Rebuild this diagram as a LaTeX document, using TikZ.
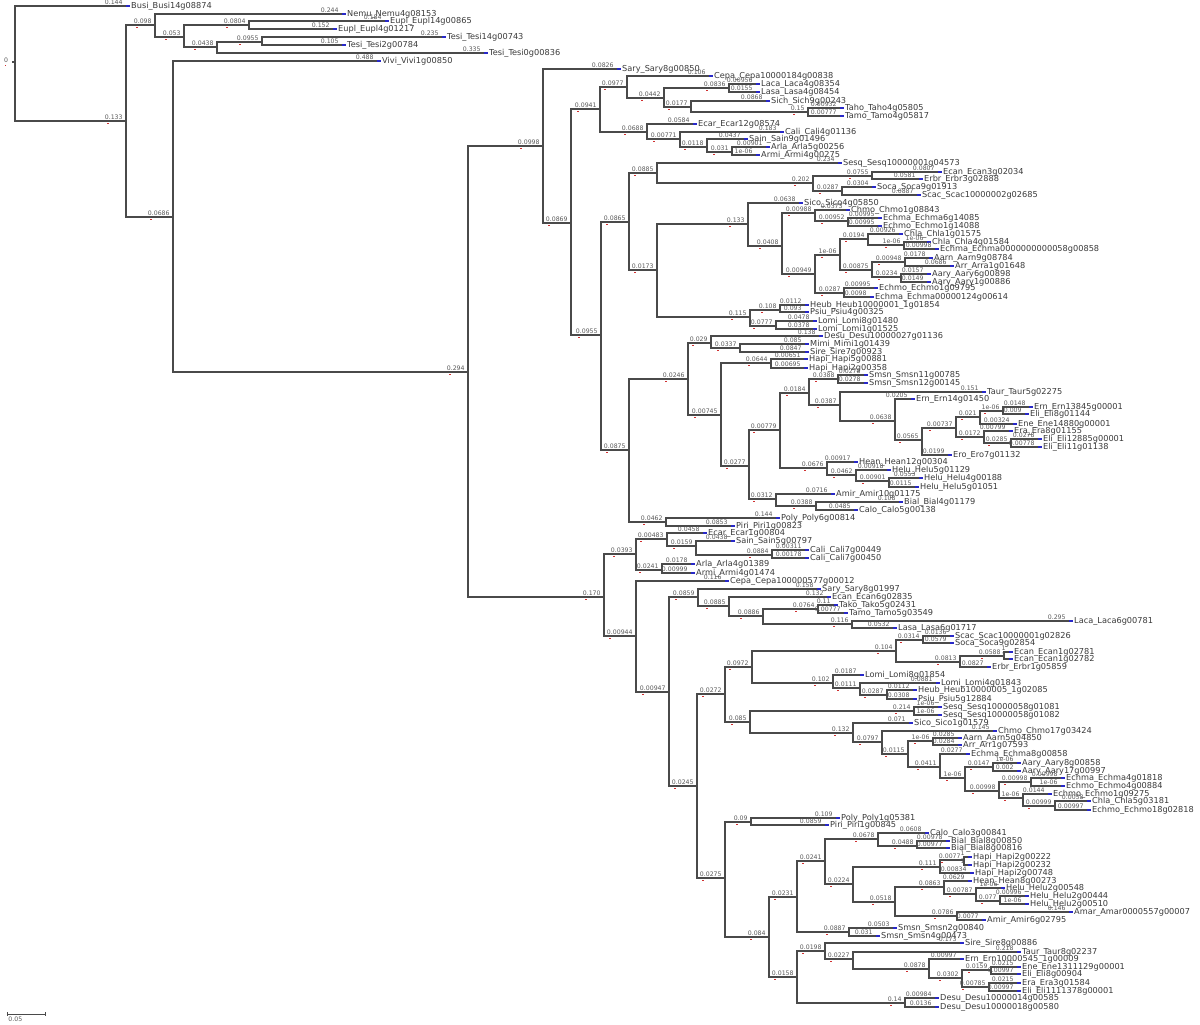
\documentclass[tikz,border=0pt]{standalone}
\usepackage{fontspec}
\newfontfamily\treefont{DejaVu Sans}
\definecolor{edgecol}{HTML}{4A4A4A}
\definecolor{labcol}{HTML}{5A5A5A}
\definecolor{namecol}{HTML}{3A3A3A}
\definecolor{redmk}{HTML}{D03030}
\definecolor{bluemk}{HTML}{2828C8}
\tikzset{
  edge/.style={draw=edgecol, line width=0.7pt},
  blab/.style={anchor=south east, inner sep=0pt, xshift=-1.5pt, yshift=0.4pt, text=labcol, font=\treefont\fontsize{3.1}{3.1}\selectfont},
  lname/.style={anchor=west, inner sep=0pt, text=namecol, font=\treefont\fontsize{4.1}{4.1}\selectfont},
  rmk/.style={fill=redmk},
  bmk/.style={fill=bluemk},
}
% internal node: parent, name, x, y, branch label
\newcommand{\TNode}[5]{%
  \coordinate (#2) at (#3,#4);
  \draw[edge] (#1) |- (#2);
  \node[blab] (#2-l) at (#2) {#5};
  \fill[rmk] ([xshift=1.2pt,yshift=-1.3pt]#2-l.south west) rectangle ++(0.9pt,-0.7pt);
  \fill[rmk] ([xshift=-0.3pt,yshift=-0.4pt]#2) rectangle ++(0.9pt,0.8pt);
}
% leaf: parent, name, x, y, branch label, leaf name
\newcommand{\TLeaf}[6]{%
  \coordinate (#2) at (#3,#4);
  \draw[edge] (#1) |- (#2);
  \node[blab] (#2-l) at (#2) {#5};
  \fill[bmk] ([yshift=-0.35pt]#2) rectangle ++(2.2pt,0.7pt);
  \node[lname] (#2-n) at ([xshift=2.4pt]#2) {#6};
}
\begin{document}
\begin{tikzpicture}[x=0.5pt,y=-0.5pt]
\fill[white] (0,0) rectangle (1200,1024);
\useasboundingbox (0,0) rectangle (1200,1024);
% root
\coordinate (R) at (15,62);
\coordinate (R0) at (12,62);
\draw[edge] (R0) -- (R);
\node[blab, anchor=east, xshift=-0.3pt, yshift=0.3pt] (R-l) at (R0) {0};
\fill[rmk] ([xshift=0.5pt,yshift=-0.6pt]R-l.south west) rectangle ++(0.9pt,-0.7pt);
\TLeaf{R}{Busi}{126}{6}{0.144}{Busi\_Busi14g08874}
\TNode{R}{N1}{126}{121}{0.133}
\TNode{N1}{N2}{155}{25}{0.098}
\TLeaf{N2}{Nemu}{342}{14}{0.244}{Nemu\_Nemu4g08153}
\TNode{N2}{N3}{184}{37}{0.053}
\TNode{N3}{N4}{249}{25}{0.0804}
\TLeaf{N4}{Eupl1}{385}{21}{0.184}{Eupl\_Eupl14g00865}
\TLeaf{N4}{Eupl2}{333}{29}{0.152}{Eupl\_Eupl4g01217}
\TNode{N3}{N5}{217}{47}{0.0438}
\TNode{N5}{N6}{262}{42}{0.0955}
\TLeaf{N6}{Tesi1}{442}{37}{0.235}{Tesi\_Tesi14g00743}
\TLeaf{N6}{Tesi2}{342}{45}{0.105}{Tesi\_Tesi2g00784}
\TLeaf{N5}{Tesi3}{484}{53}{0.335}{Tesi\_Tesi0g00836}
\TNode{N1}{N7}{173}{217}{0.0686}
\TLeaf{N7}{Vivi}{377}{61}{0.488}{Vivi\_Vivi1g00850}
\TNode{N7}{N8}{468}{372}{0.294}
\TNode{N8}{N9}{543}{146}{0.0998}
\TLeaf{N9}{Sary}{617}{69}{0.0826}{Sary\_Sary8g00850}
\TNode{N9}{N10}{571}{223}{0.0869}
\TNode{N10}{N11}{600}{109}{0.0941}
\TNode{N11}{N12}{627}{87}{0.0977}
\TLeaf{N12}{Cepa1}{709}{76}{0.106}{Cepa\_Cepa10000184g00838}
\TNode{N12}{N13}{664}{98}{0.0442}
\TNode{N13}{N14}{729}{88}{0.0836}
\TLeaf{N14}{Laca}{756}{84}{0.00956}{Laca\_Laca4g08354}
\TLeaf{N14}{Lasa}{756}{92}{0.0155}{Lasa\_Lasa4g08454}
\TNode{N13}{N15}{691}{107}{0.0177}
\TLeaf{N15}{Sich}{766}{101}{0.0868}{Sich\_Sich9g00243}
\TNode{N15}{N16}{808}{112}{0.15}
\TLeaf{N16}{Taho}{840}{108}{0.00932}{Taho\_Taho4g05805}
\TLeaf{N16}{Tamo}{840}{116}{0.00777}{Tamo\_Tamo4g05817}
\TNode{N11}{N17}{647}{132}{0.0688}
\TLeaf{N17}{Ecar}{693}{124}{0.0584}{Ecar\_Ecar12g08574}
\TNode{N17}{N18}{680}{139}{0.00771}
\TLeaf{N18}{Cali}{780}{132}{0.183}{Cali\_Cali4g01136}
\TNode{N18}{N19}{707}{147}{0.0118}
\TLeaf{N19}{Sain}{744}{139}{0.0437}{Sain\_Sain9g01496}
\TNode{N19}{N20}{732}{152}{0.031}
\TLeaf{N20}{Arla}{766}{147}{0.00901}{Arla\_Arla5g00256}
\TLeaf{N20}{Armi}{756}{155}{1e-06}{Armi\_Armi4g00275}
\TNode{N10}{N21}{601}{335}{0.0955}
\TNode{N21}{N22}{629}{222}{0.0865}
\TNode{N22}{N23}{657}{173}{0.0885}
\TLeaf{N23}{Sesq}{838}{163}{0.234}{Sesq\_Sesq10000001g04573}
\TNode{N23}{N24}{813}{183}{0.202}
\TNode{N24}{N25}{872}{176}{0.0755}
\TLeaf{N25}{Ecan1}{938}{172}{0.0807}{Ecan\_Ecan3g02034}
\TLeaf{N25}{Erbr}{919}{179}{0.0581}{Erbr\_Erbr3g02888}
\TNode{N24}{N26}{842}{191}{0.0287}
\TLeaf{N26}{Soca}{872}{187}{0.0304}{Soca\_Soca9g01913}
\TLeaf{N26}{Scac}{917}{195}{0.0887}{Scac\_Scac10000002g02685}
\TNode{N22}{N27}{657}{270}{0.0173}
\TNode{N27}{N28}{748}{224}{0.133}
\TLeaf{N28}{Sico}{799}{203}{0.0638}{Sico\_Sico4g05850}
\TNode{N28}{N29}{782}{246}{0.0408}
\TNode{N29}{N30}{815}{213}{0.00988}
\TLeaf{N30}{Chmo1}{846}{210}{0.0373}{Chmo\_Chmo1g08843}
\TNode{N30}{N31}{848}{221}{0.00952}
\TLeaf{N31}{Chma1}{878}{218}{0.00995}{Echma\_Echma6g14085}
\TLeaf{N31}{Chmo2}{878}{226}{0.00995}{Echmo\_Echmo1g14088}
\TNode{N29}{N32}{815}{274}{0.00949}
\TNode{N32}{N33}{840}{255}{1e-06}
\TNode{N33}{N34}{868}{239}{0.0194}
\TLeaf{N34}{Chla1}{899}{234}{0.00926}{Chla\_Chla1g01575}
\TNode{N34}{N35}{904}{245}{1e-06}
\TLeaf{N35}{Chla2}{927}{242}{1e-06}{Chla\_Chla4g01584}
\TLeaf{N35}{Echma}{935}{249}{0.00998}{Echma\_Echma0000000000058g00858}
\TNode{N33}{N36}{872}{270}{0.00875}
\TNode{N36}{N36a}{905}{262}{0.00948}
\TLeaf{N36a}{Aarn}{929}{258}{0.0178}{Aarn\_Aarn9g08784}
\TLeaf{N36a}{Arr}{950}{266}{0.0686}{Arr\_Arra1g01648}
\TNode{N36}{N36b}{901}{277}{0.0234}
\TLeaf{N36b}{Aary1}{927}{274}{0.0157}{Aary\_Aary6g00898}
\TLeaf{N36b}{Aary2}{927}{282}{0.0149}{Aary\_Aary1g00886}
\TNode{N32}{N37}{844}{293}{0.0287}
\TLeaf{N37}{Echmo}{874}{288}{0.00995}{Echmo\_Echmo1g09795}
\TLeaf{N37}{Echma2}{870}{297}{0.0098}{Echma\_Echma00000124g00614}
\TNode{N27}{N38}{750}{317}{0.115}
\TNode{N38}{N39}{780}{310}{0.108}
\TLeaf{N39}{Heub}{805}{305}{0.0112}{Heub\_Heub10000001\_1g01854}
\TLeaf{N39}{Psiu}{805}{312}{0.093}{Psiu\_Psiu4g00325}
\TNode{N38}{N40}{776}{326}{0.0777}
\TLeaf{N40}{Lomi1}{813}{321}{0.0478}{Lomi\_Lomi8g01480}
\TLeaf{N40}{Lomi2}{813}{329}{0.0378}{Lomi\_Lomi1g01525}
\TNode{N21}{N41}{629}{450}{0.0875}
\TNode{N41}{N42}{688}{379}{0.0246}
\TNode{N42}{N43}{711}{343}{0.029}
\TLeaf{N43}{Desu1}{819}{336}{0.138}{Desu\_Desu10000027g01136}
\TNode{N43}{N44}{740}{348}{0.0337}
\TLeaf{N44}{Mimi}{805}{344}{0.085}{Mimi\_Mimi1g01439}
\TLeaf{N44}{Sire}{805}{352}{0.0847}{Sire\_Sire7g00923}
\TNode{N42}{N45}{721}{415}{0.00745}
\TNode{N45}{N46}{771}{363}{0.0644}
\TLeaf{N46}{Hapi1}{804}{359}{0.00651}{Hapi\_Hapi5g00881}
\TLeaf{N46}{Hapi2}{804}{368}{0.00695}{Hapi\_Hapi2g00358}
\TNode{N45}{N47}{749}{466}{0.0277}
\TNode{N47}{N48}{780}{430}{0.00779}
\TNode{N48}{N49}{809}{393}{0.0184}
\TNode{N49}{N50}{838}{379}{0.0388}
\TLeaf{N50}{Smsn1}{864}{375}{0.0278}{Smsn\_Smsn11g00785}
\TLeaf{N50}{Smsn2}{864}{383}{0.0278}{Smsn\_Smsn12g00145}
\TNode{N49}{N51}{840}{405}{0.0387}
\TLeaf{N51}{Taur}{982}{392}{0.151}{Taur\_Taur5g02275}
\TNode{N51}{N52}{895}{421}{0.0638}
\TLeaf{N52}{Ern1}{911}{399}{0.0205}{Ern\_Ern14g01450}
\TNode{N52}{N53}{922}{440}{0.0565}
\TNode{N53}{N54}{956}{428}{0.00737}
\TNode{N54}{N55}{980}{417}{0.021}
\TNode{N55}{N56}{1003}{411}{1e-06}
\TLeaf{N56}{Ern2}{1029}{407}{0.0148}{Ern\_Ern13845g00001}
\TLeaf{N56}{Eli1}{1025}{414}{0.009}{Eli\_Eli8g01144}
\TLeaf{N55}{Ene}{1013}{424}{0.00324}{Ene\_Ene14880g00001}
\TNode{N54}{N57}{984}{437}{0.0172}
\TLeaf{N57}{Era}{1009}{431}{0.00799}{Era\_Era8g01155}
\TNode{N57}{N58}{1011}{443}{0.0285}
\TLeaf{N58}{Eli2}{1038}{439}{0.0278}{Eli\_Eli12885g00001}
\TLeaf{N58}{Eli3}{1038}{447}{0.00778}{Eli\_Eli11g01138}
\TLeaf{N53}{Ero}{948}{455}{0.0199}{Ero\_Ero7g01132}
\TNode{N48}{N59}{827}{468}{0.0676}
\TLeaf{N59}{Hean}{854}{462}{0.00917}{Hean\_Hean12g00304}
\TNode{N59}{N60}{856}{475}{0.0462}
\TLeaf{N60}{Helu1}{887}{470}{0.00918}{Helu\_Helu5g01129}
\TNode{N60}{N61}{889}{481}{0.00901}
\TLeaf{N61}{Helu2}{919}{478}{0.0553}{Helu\_Helu4g00188}
\TLeaf{N61}{Helu3}{915}{487}{0.0115}{Helu\_Helu5g01051}
\TNode{N47}{N62}{776}{499}{0.0312}
\TLeaf{N62}{Amir}{831}{494}{0.0716}{Amir\_Amir10g01175}
\TNode{N62}{N63}{816}{506}{0.0388}
\TLeaf{N63}{Bial}{899}{502}{0.108}{Bial\_Bial4g01179}
\TLeaf{N63}{Calo}{854}{510}{0.0485}{Calo\_Calo5g00138}
\TNode{N41}{N64}{666}{522}{0.0462}
\TLeaf{N64}{Poly}{776}{518}{0.144}{Poly\_Poly6g00814}
\TLeaf{N64}{Piri}{731}{526}{0.0853}{Piri\_Piri1g00823}
% lower clade
\TNode{N8}{N65}{604}{597}{0.170}
\TNode{N65}{N66}{636}{554}{0.0393}
\TNode{N66}{N67}{667}{539}{0.00483}
\TLeaf{N67}{Ecar2}{703}{533}{0.0458}{Ecar\_Ecar1g00804}
\TNode{N67}{N68}{696}{546}{0.0159}
\TLeaf{N68}{Sain2}{731}{541}{0.0438}{Sain\_Sain5g00797}
\TNode{N68}{N69}{772}{555}{0.0884}
\TLeaf{N69}{Cali2}{805}{550}{0.00311}{Cali\_Cali7g00449}
\TLeaf{N69}{Cali3}{805}{558}{0.00178}{Cali\_Cali7g00450}
\TNode{N66}{N70}{662}{570}{0.0241}
\TLeaf{N70}{Arla2}{691}{564}{0.0178}{Arla\_Arla4g01389}
\TLeaf{N70}{Armi2}{691}{573}{0.00999}{Armi\_Armi4g01474}
\TNode{N65}{N71}{636}{636}{0.00944}
\TLeaf{N71}{Cepa2}{725}{581}{0.116}{Cepa\_Cepa100000577g00012}
\TNode{N71}{N72}{669}{692}{0.00947}
\TNode{N72}{N73}{698}{597}{0.0859}
\TLeaf{N73}{Sary2}{817}{589}{0.158}{Sary\_Sary8g01997}
\TNode{N73}{N74}{729}{606}{0.0885}
\TLeaf{N74}{Ecan2}{827}{597}{0.132}{Ecan\_Ecan6g02835}
\TNode{N74}{N75}{763}{616}{0.0886}
\TNode{N75}{N76}{818}{609}{0.0764}
\TLeaf{N76}{Tako}{834}{605}{0.11}{Tako\_Tako5g02431}
\TLeaf{N76}{Tamo2}{844}{613}{0.00777}{Tamo\_Tamo5g03549}
\TNode{N75}{N77}{852}{624}{0.116}
\TLeaf{N77}{Laca2}{1069}{621}{0.295}{Laca\_Laca6g00781}
\TLeaf{N77}{Lasa2}{893}{628}{0.0532}{Lasa\_Lasa6g01717}
\TNode{N72}{N78}{697}{786}{0.0245}
\TNode{N78}{N79}{725}{694}{0.0272}
\TNode{N79}{N80}{752}{667}{0.0972}
\TNode{N80}{N81}{896}{651}{0.104}
\TNode{N81}{N82}{923}{640}{0.0314}
\TLeaf{N82}{Scac2}{950}{636}{0.0136}{Scac\_Scac10000001g02826}
\TLeaf{N82}{Soca2}{950}{643}{0.0579}{Soca\_Soca9g02854}
\TNode{N81}{N83}{960}{662}{0.0813}
\TNode{N83}{N84}{1004}{656}{0.0588}
\TLeaf{N84}{Ecan3}{1009}{652}{1}{Ecan\_Ecan1g02781}
\TLeaf{N84}{Ecan4}{1009}{659}{1}{Ecan\_Ecan1g02782}
\TLeaf{N83}{Erbr2}{987}{667}{0.0827}{Erbr\_Erbr1g05859}
\TNode{N80}{N85}{833}{683}{0.102}
\TLeaf{N85}{Lomi3}{860}{675}{0.0187}{Lomi\_Lomi8g01854}
\TNode{N85}{N86}{860}{688}{0.0111}
\TLeaf{N86}{Lomi4}{936}{683}{0.0881}{Lomi\_Lomi4g01843}
\TNode{N86}{N87}{887}{695}{0.0287}
\TLeaf{N87}{Heub2}{913}{690}{0.0112}{Heub\_Heub10000005\_1g02085}
\TLeaf{N87}{Psiu2}{913}{699}{0.0308}{Psiu\_Psiu5g12884}
\TNode{N79}{N88}{750}{722}{0.085}
\TNode{N88}{N89}{914}{711}{0.214}
\TLeaf{N89}{Sesq2}{938}{707}{1e-06}{Sesq\_Sesq10000058g01081}
\TLeaf{N89}{Sesq3}{938}{715}{1e-06}{Sesq\_Sesq10000058g01082}
\TNode{N88}{N90}{853}{733}{0.132}
\TLeaf{N90}{Sico2}{909}{723}{0.071}{Sico\_Sico1g01579}
\TNode{N90}{N91}{882}{742}{0.0797}
\TLeaf{N91}{Chmo3}{993}{731}{0.145}{Chmo\_Chmo17g03424}
\TNode{N91}{N92}{908}{754}{0.0115}
\TNode{N92}{N93}{933}{741}{1e-06}
\TLeaf{N93}{Aarn2}{958}{738}{0.0285}{Aarn\_Aarn5g04850}
\TLeaf{N93}{Arr2}{958}{745}{0.0284}{Arr\_Arr1g07593}
\TNode{N92}{N94}{940}{767}{0.0411}
\TLeaf{N94}{Chma3}{966}{754}{0.0277}{Echma\_Echma8g00858}
\TNode{N94}{N95}{965}{778}{1e-06}
\TNode{N95}{N96}{993}{767}{0.0147}
\TLeaf{N96}{Aary3}{1017}{763}{1e-06}{Aary\_Aary8g00858}
\TLeaf{N96}{Aary4}{1017}{771}{0.002}{Aary\_Aary17g00997}
\TNode{N95}{N97}{999}{791}{0.00998}
\TNode{N97}{N98}{1031}{782}{0.00998}
\TLeaf{N98}{Chma4}{1061}{778}{0.00998}{Echma\_Echma4g01818}
\TLeaf{N98}{Chmo4}{1061}{786}{1e-06}{Echmo\_Echmo4g00884}
\TNode{N97}{N99}{1023}{798}{1e-06}
\TLeaf{N99}{Chmo5}{1048}{794}{0.0144}{Echmo\_Echmo1g09275}
\TNode{N99}{N100}{1055}{806}{0.00999}
\TLeaf{N100}{Chla3}{1087}{801}{0.0058}{Chla\_Chla5g03181}
\TLeaf{N100}{Chmo6}{1087}{810}{0.00997}{Echmo\_Echmo18g02818}
\TNode{N78}{N101}{725}{878}{0.0275}
\TNode{N101}{N102}{751}{822}{0.09}
\TLeaf{N102}{Poly2}{836}{818}{0.109}{Poly\_Poly1g05381}
\TLeaf{N102}{Piri2}{825}{825}{0.0859}{Piri\_Piri1g00845}
\TNode{N101}{N103}{769}{937}{0.084}
\TNode{N103}{N104}{797}{897}{0.0231}
\TNode{N104}{N105}{825}{861}{0.0241}
\TNode{N105}{N106}{878}{839}{0.0678}
\TLeaf{N106}{Calo2}{925}{833}{0.0608}{Calo\_Calo3g00841}
\TNode{N106}{N107}{917}{846}{0.0488}
\TLeaf{N107}{Bial2}{946}{841}{0.00978}{Bial\_Bial8g00850}
\TLeaf{N107}{Bial3}{946}{848}{0.00977}{Bial\_Bial8g00816}
\TNode{N105}{N108}{853}{884}{0.0224}
\TNode{N108}{N109}{940}{867}{0.111}
\TNode{N109}{N110}{964}{860}{0.0077}
\TLeaf{N110}{Hapi3}{968}{857}{1}{Hapi\_Hapi2g00222}
\TLeaf{N110}{Hapi4}{968}{865}{1}{Hapi\_Hapi2g00232}
\TLeaf{N109}{Hapi5}{970}{873}{0.00834}{Hapi\_Hapi2g00748}
\TNode{N108}{N111}{895}{902}{0.0518}
\TNode{N111}{N112}{944}{887}{0.0863}
\TLeaf{N112}{Hean2}{968}{881}{0.0629}{Hean\_Hean8g00273}
\TNode{N112}{N113}{976}{894}{0.00787}
\TLeaf{N113}{Helu4}{1001}{888}{1e-06}{Helu\_Helu2g00548}
\TNode{N113}{N114}{1000}{901}{0.077}
\TLeaf{N114}{Helu5}{1025}{896}{0.00996}{Helu\_Helu2g00444}
\TLeaf{N114}{Helu6}{1025}{904}{1e-06}{Helu\_Helu2g00510}
\TNode{N111}{N115}{957}{916}{0.0786}
\TLeaf{N115}{Amar}{1069}{912}{0.146}{Amar\_Amar0000557g00007}
\TLeaf{N115}{Amir2}{982}{920}{0.0077}{Amir\_Amir6g02795}
\TNode{N104}{N116}{849}{932}{0.0887}
\TLeaf{N116}{Smsn3}{893}{928}{0.0503}{Smsn\_Smsn2g00840}
\TLeaf{N116}{Smsn4}{876}{936}{0.031}{Smsn\_Smsn4g00473}
\TNode{N103}{N117}{797}{977}{0.0158}
\TNode{N117}{N118}{825}{951}{0.0198}
\TLeaf{N118}{Sire2}{960}{943}{0.173}{Sire\_Sire8g00886}
\TNode{N118}{N119}{853}{959}{0.0227}
\TLeaf{N119}{Taur2}{1017}{952}{0.218}{Taur\_Taur8g02237}
\TNode{N119}{N120}{929}{969}{0.0878}
\TLeaf{N120}{Ern3}{960}{959}{0.00997}{Ern\_Ern10000545\_1g00009}
\TNode{N120}{N121}{962}{978}{0.0302}
\TNode{N121}{N122}{991}{970}{0.0159}
\TLeaf{N122}{Ene2}{1017}{967}{0.0215}{Ene\_Ene1311129g00001}
\TLeaf{N122}{Eli4}{1017}{974}{0.00997}{Eli\_Eli8g00904}
\TNode{N121}{N123}{989}{987}{0.00785}
\TLeaf{N123}{Era2}{1017}{983}{0.0215}{Era\_Era3g01584}
\TLeaf{N123}{Eli5}{1017}{991}{0.00997}{Eli\_Eli1111378g00001}
\TNode{N117}{N124}{905}{1003}{0.14}
\TLeaf{N124}{Desu2}{935}{998}{0.00984}{Desu\_Desu10000014g00585}
\TLeaf{N124}{Desu3}{935}{1007}{0.0136}{Desu\_Desu10000018g00580}
% scale bar
\coordinate (sbA) at (7,1014);
\coordinate (sbB) at (45,1014);
\draw[edge, line width=0.5pt] (sbA) -- (sbB);
\draw[edge, line width=0.5pt] ([yshift=0.8pt]sbA) -- ([yshift=-0.8pt]sbA);
\draw[edge, line width=0.5pt] ([yshift=0.8pt]sbB) -- ([yshift=-0.8pt]sbB);
\node[anchor=north west, inner sep=0pt, text=labcol, font=\treefont\fontsize{3.1}{3.1}\selectfont] (sbL) at (8,1016) {0.05};
\end{tikzpicture}
\end{document}
